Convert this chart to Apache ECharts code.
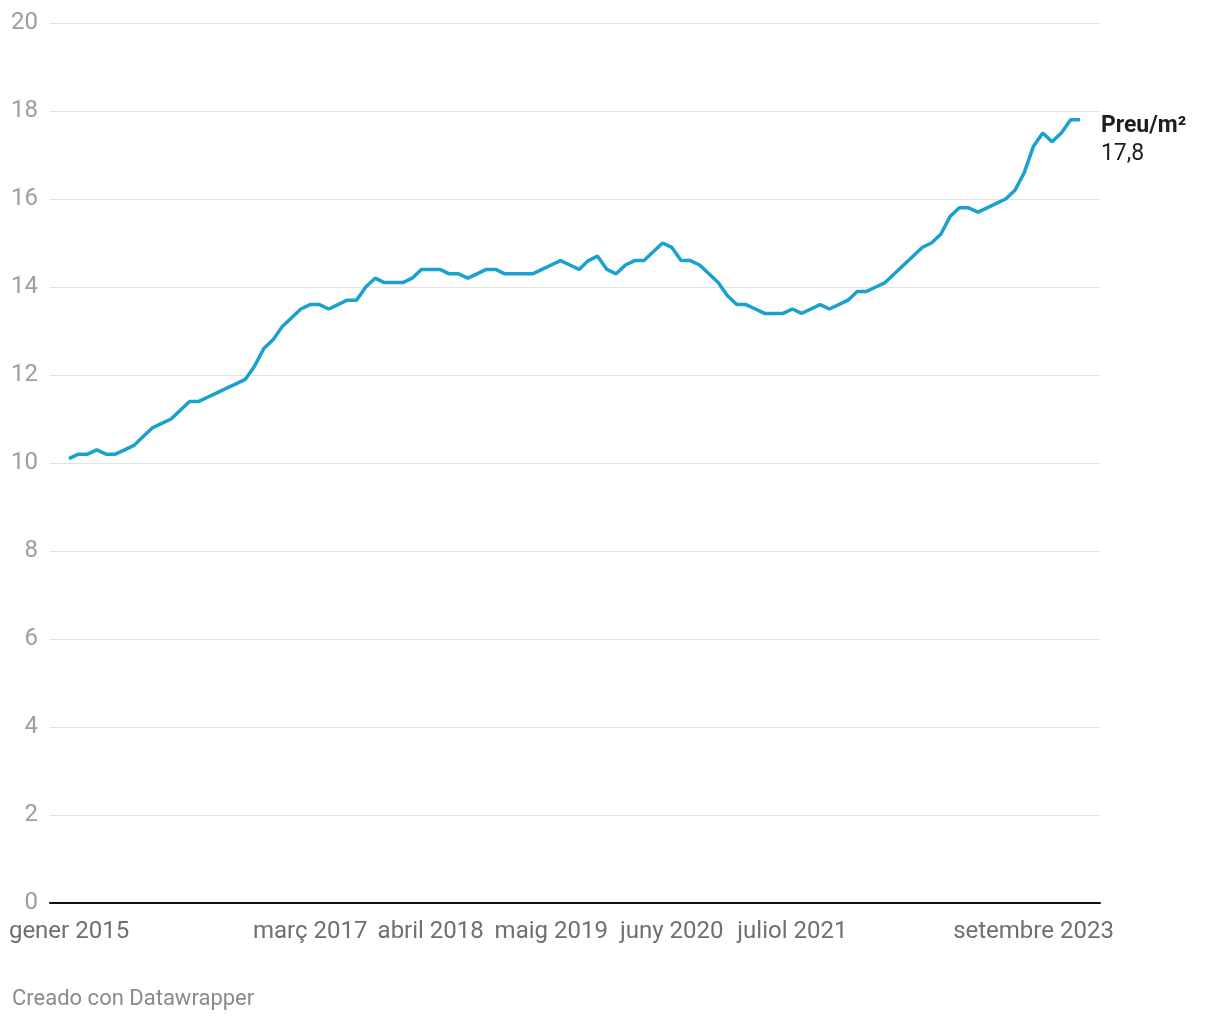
<!DOCTYPE html>
<html>
<head>
<meta charset="utf-8">
<style>
  html, body { margin: 0; padding: 0; background: #fff; }
  #chart { width: 1220px; height: 1020px; }
</style>
<script src="https://cdn.jsdelivr.net/npm/echarts@6/dist/echarts.min.js"></script>
</head>
<body>
<div id="chart"></div>
<script>
// Monthly series, gener 2015 .. febrer 2024 (index 0 = gener 2015)
const preuM2 = [
  10.1, 10.2, 10.2, 10.3, 10.2, 10.2, 10.3, 10.4, 10.6, 10.8, 10.9, 11.0,
  11.2, 11.4, 11.4, 11.5, 11.6, 11.7, 11.8, 11.9, 12.2, 12.6, 12.8, 13.1,
  13.3, 13.5, 13.6, 13.6, 13.5, 13.6, 13.7, 13.7, 14.0, 14.2, 14.1, 14.1,
  14.1, 14.2, 14.4, 14.4, 14.4, 14.3, 14.3, 14.2, 14.3, 14.4, 14.4, 14.3,
  14.3, 14.3, 14.3, 14.4, 14.5, 14.6, 14.5, 14.4, 14.6, 14.7, 14.4, 14.3,
  14.5, 14.6, 14.6, 14.8, 15.0, 14.9, 14.6, 14.6, 14.5, 14.3, 14.1, 13.8,
  13.6, 13.6, 13.5, 13.4, 13.4, 13.4, 13.5, 13.4, 13.5, 13.6, 13.5, 13.6,
  13.7, 13.9, 13.9, 14.0, 14.1, 14.3, 14.5, 14.7, 14.9, 15.0, 15.2, 15.6,
  15.8, 15.8, 15.7, 15.8, 15.9, 16.0, 16.2, 16.6, 17.2, 17.5, 17.3, 17.5,
  17.8, 17.8
];
const monthNames = ['gener','febrer','març','abril','maig','juny','juliol','agost','setembre','octubre','novembre','desembre'];
const startYear = 2015;
const tickIndices = [0, 26, 39, 52, 65, 78, 104];
const yTicks = [0, 2, 4, 6, 8, 10, 12, 14, 16, 18, 20];
const seriesName = 'Preu/m²';

function monthLabel(i) {
  const y = startYear + Math.floor(i / 12);
  return monthNames[i % 12] + ' ' + y;
}

const seriesData = preuM2.map((v, i) => [i, v]);

const chart = echarts.init(document.getElementById('chart'), null, { renderer: 'canvas' });
const FONT = 'Roboto, "Noto Sans", sans-serif';

chart.setOption({
  animation: false,
  backgroundColor: '#ffffff',
  textStyle: { fontFamily: FONT },
  grid: { left: 50, right: 120, top: 23, bottom: 117, containLabel: false },
  xAxis: {
    type: 'value',
    min: -2.05,
    max: 111.17,
    splitLine: { show: false },
    axisTick: { show: false },
    axisLine: { show: true, onZero: false, lineStyle: { color: '#111111', width: 2 } },
    axisLabel: {
      customValues: tickIndices,
      formatter: (v) => monthLabel(Math.round(v)),
      color: '#6f6f6f',
      fontSize: 24,
      fontFamily: FONT,
      margin: 17
    }
  },
  yAxis: {
    type: 'value',
    min: yTicks[0],
    max: yTicks[yTicks.length - 1],
    interval: 2,
    axisLine: { show: false },
    axisTick: { show: false },
    splitLine: { show: true, lineStyle: { color: '#e2e2e2', width: 1 } },
    axisLabel: {
      color: '#9e9e9e',
      fontSize: 24,
      fontFamily: FONT,
      margin: 12,
      padding: [4, 0, 0, 0]
    }
  },
  series: [{
    name: seriesName,
    type: 'line',
    data: seriesData,
    showSymbol: false,
    symbol: 'none',
    lineStyle: { color: '#1aa1cf', width: 3.5 },
    itemStyle: { color: '#1aa1cf' },
    z: 5,
    endLabel: {
      show: true,
      distance: 21,
      offset: [0, 20],
      formatter: (p) => '{a|' + p.seriesName + '}\n{b|' + String(p.value[1]).replace('.', ',') + '}',
      rich: {
        a: { fontSize: 23, fontWeight: 'bold', color: '#1d1d1d', fontFamily: FONT, lineHeight: 28 },
        b: { fontSize: 23, color: '#1d1d1d', fontFamily: FONT, lineHeight: 28 }
      }
    }
  }],
  graphic: [{
    type: 'text',
    left: 12,
    top: 988,
    style: {
      text: 'Creado con Datawrapper',
      fill: '#8a8a8a',
      font: '22px ' + FONT
    }
  }]
});
</script>
</body>
</html>
